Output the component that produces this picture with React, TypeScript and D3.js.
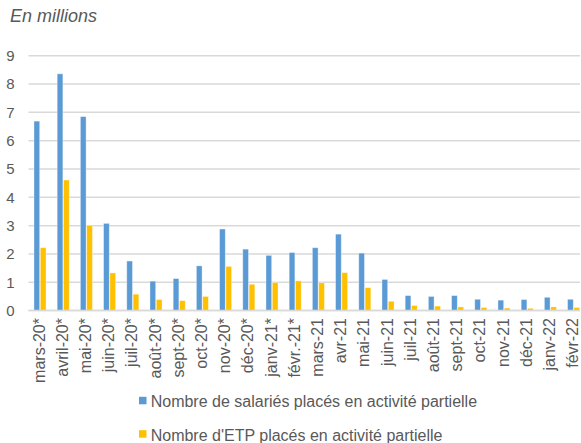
import React from "react";
import * as d3 from "d3";

const categories = [
  "mars-20*", "avril-20*", "mai-20*", "juin-20*", "juil-20*", "août-20*",
  "sept-20*", "oct-20*", "nov-20*", "déc-20*", "janv-21*", "févr.-21*",
  "mars-21", "avr-21", "mai-21", "juin-21", "juil-21", "août-21",
  "sept-21", "oct-21", "nov-21", "déc-21", "janv-22", "févr-22",
];

const salaries = [
  6.69, 8.36, 6.85, 3.08, 1.75, 1.04, 1.13, 1.58, 2.88, 2.17, 1.95, 2.05,
  2.22, 2.70, 2.03, 1.10, 0.53, 0.50, 0.53, 0.40, 0.37, 0.39, 0.47, 0.40,
];

const etp = [
  2.22, 4.61, 3.01, 1.33, 0.58, 0.39, 0.35, 0.50, 1.56, 0.93, 0.99, 1.05,
  0.98, 1.34, 0.81, 0.33, 0.18, 0.16, 0.13, 0.11, 0.09, 0.08, 0.13, 0.11,
];

const yTicks = [0, 1, 2, 3, 4, 5, 6, 7, 8, 9];

const seriesNames = [
  "Nombre de salariés placés en activité partielle",
  "Nombre d'ETP placés en activité partielle",
];
const seriesColors = ["#5B9BD5", "#FFC000"];

const W = 581;
const H = 443;
const FONT = "'Liberation Sans', Arial, sans-serif";
const TEXT = "#595959";

export default function App() {
  const x0 = d3
    .scaleBand<string>()
    .domain(categories)
    .range([28.4, 585.2])
    .paddingInner(0.48)
    .paddingOuter(0.24);
  const x1 = d3
    .scaleBand<number>()
    .domain([0, 1])
    .range([0, x0.bandwidth()])
    .paddingInner(0.1);
  const y = d3.scaleLinear().domain([0, 9]).range([310.6, 55.7]);

  const series = [salaries, etp];

  return (
    <svg
      width={W}
      height={H}
      style={{ position: "absolute", left: 0, top: 0, background: "#fff" }}
      fontFamily={FONT}
    >
      <text x={10} y={22} fontSize={18} fontStyle="italic" fill={TEXT}>
        En millions
      </text>

      {yTicks.map((t) => (
        <g key={t}>
          <line
            x1={28.5}
            x2={580}
            y1={y(t)}
            y2={y(t)}
            stroke="#D9D9D9"
            strokeWidth={1.5}
          />
          <text
            x={14.5}
            y={y(t) + 5.3}
            fontSize={15}
            fill={TEXT}
            textAnchor="end"
          >
            {t}
          </text>
        </g>
      ))}

      {categories.map((c, i) => (
        <g key={c} transform={`translate(${x0(c)},0)`}>
          {series.map((vals, s) => (
            <rect
              key={s}
              x={x1(s)}
              y={y(vals[i])}
              width={x1.bandwidth()}
              height={y(0) - y(vals[i])}
              fill={seriesColors[s]}
              stroke="rgba(255,255,255,0.45)"
              strokeWidth={0.8}
            />
          ))}
        </g>
      ))}

      <line x1={28.5} x2={580} y1={y(0)} y2={y(0)} stroke="#D9D9D9" strokeWidth={1.5} />

      {categories.map((c) => {
        const cx = (x0(c) as number) + x0.bandwidth() / 2 + 4.5;
        return (
          <text
            key={c}
            transform={`translate(${cx},318) rotate(-90)`}
            textAnchor="end"
            fontSize={16}
            fill={TEXT}
          >
            {c}
          </text>
        );
      })}

      {seriesNames.map((name, s) => {
        const base = s === 0 ? 407.3 : 440.7;
        return (
          <g key={name}>
            <rect
              x={139}
              y={base - 10.5}
              width={7.5}
              height={7.5}
              fill={seriesColors[s]}
            />
            <text x={150.7} y={base} fontSize={16} fill={TEXT}>
              {name}
            </text>
          </g>
        );
      })}
    </svg>
  );
}
